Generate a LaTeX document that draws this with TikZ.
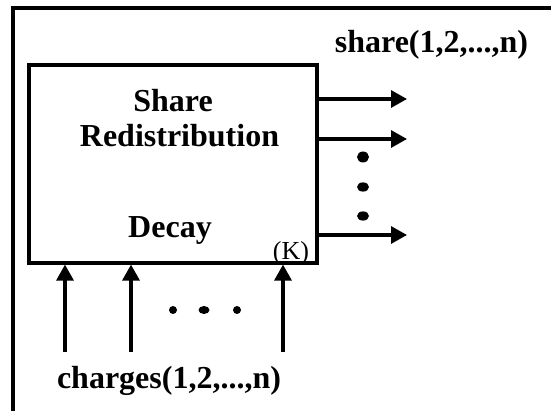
\documentclass[tikz,border=0pt]{standalone}
\usepackage{fontspec}
\setmainfont{Liberation Serif}
\usepackage{tikz}
\usetikzlibrary{arrows.meta, positioning}

\begin{document}
\begin{tikzpicture}[
  x=1pt, y=-1pt,
  block/.style={
    rectangle,
    draw=black,
    line width=3.2pt,
    minimum width=288pt,
    minimum height=198pt,
    inner sep=0pt
  },
  boldtext/.style={anchor=base, inner sep=0pt, font=\fontsize{32}{38}\selectfont\bfseries},
  smalltext/.style={anchor=base, inner sep=0pt, font=\fontsize{26}{30}\selectfont},
  arrow/.style={-{Triangle[length=16pt, width=17pt]}, line width=3.2pt, draw=black},
  dot/.style={fill=black, draw=none}
]
\useasboundingbox (0,0) rectangle (551,411);
% outer frame (open at right and bottom)
\draw[line width=3.2pt] (13,411) -- (13,8) -- (551,8);

\node[block] (model) at (173,164) {};
\node[boldtext] (share) at (173,112) {Share};
\node[boldtext] (redist) at (179.5,147) {Redistribution};
\node[boldtext] (decay) at (170,238) {Decay};
\node[smalltext] (kval) at (291,260) {(K)};

% outputs
\node[boldtext] (shareout) at (431.5,53) {share(1,2,...,n)};
\coordinate (out1) at (407,99);
\coordinate (out2) at (407,139);
\coordinate (out3) at (407,235);
\draw[arrow] (model.east |- out1) -- (out1);
\draw[arrow] (model.east |- out2) -- (out2);
\draw[arrow] (model.east |- out3) -- (out3);
\fill[dot] (363,157) ellipse (6pt and 5.5pt);
\fill[dot] (363,187) ellipse (6pt and 4.6pt);
\fill[dot] (363,216) ellipse (6pt and 4.6pt);

% inputs
\node[boldtext] (chargesin) at (169,388) {charges(1,2,...,n)};
\coordinate (in1) at (65,352);
\coordinate (in2) at (131,352);
\coordinate (in3) at (283,352);
\draw[arrow] (in1) -- (in1 |- model.south);
\draw[arrow] (in2) -- (in2 |- model.south);
\draw[arrow] (in3) -- (in3 |- model.south);
\fill[dot] (173,310) ellipse (4pt and 4pt);
\fill[dot] (204,310) ellipse (5.5pt and 4pt);
\fill[dot] (237,310) ellipse (4pt and 4pt);
\end{tikzpicture}
\end{document}
